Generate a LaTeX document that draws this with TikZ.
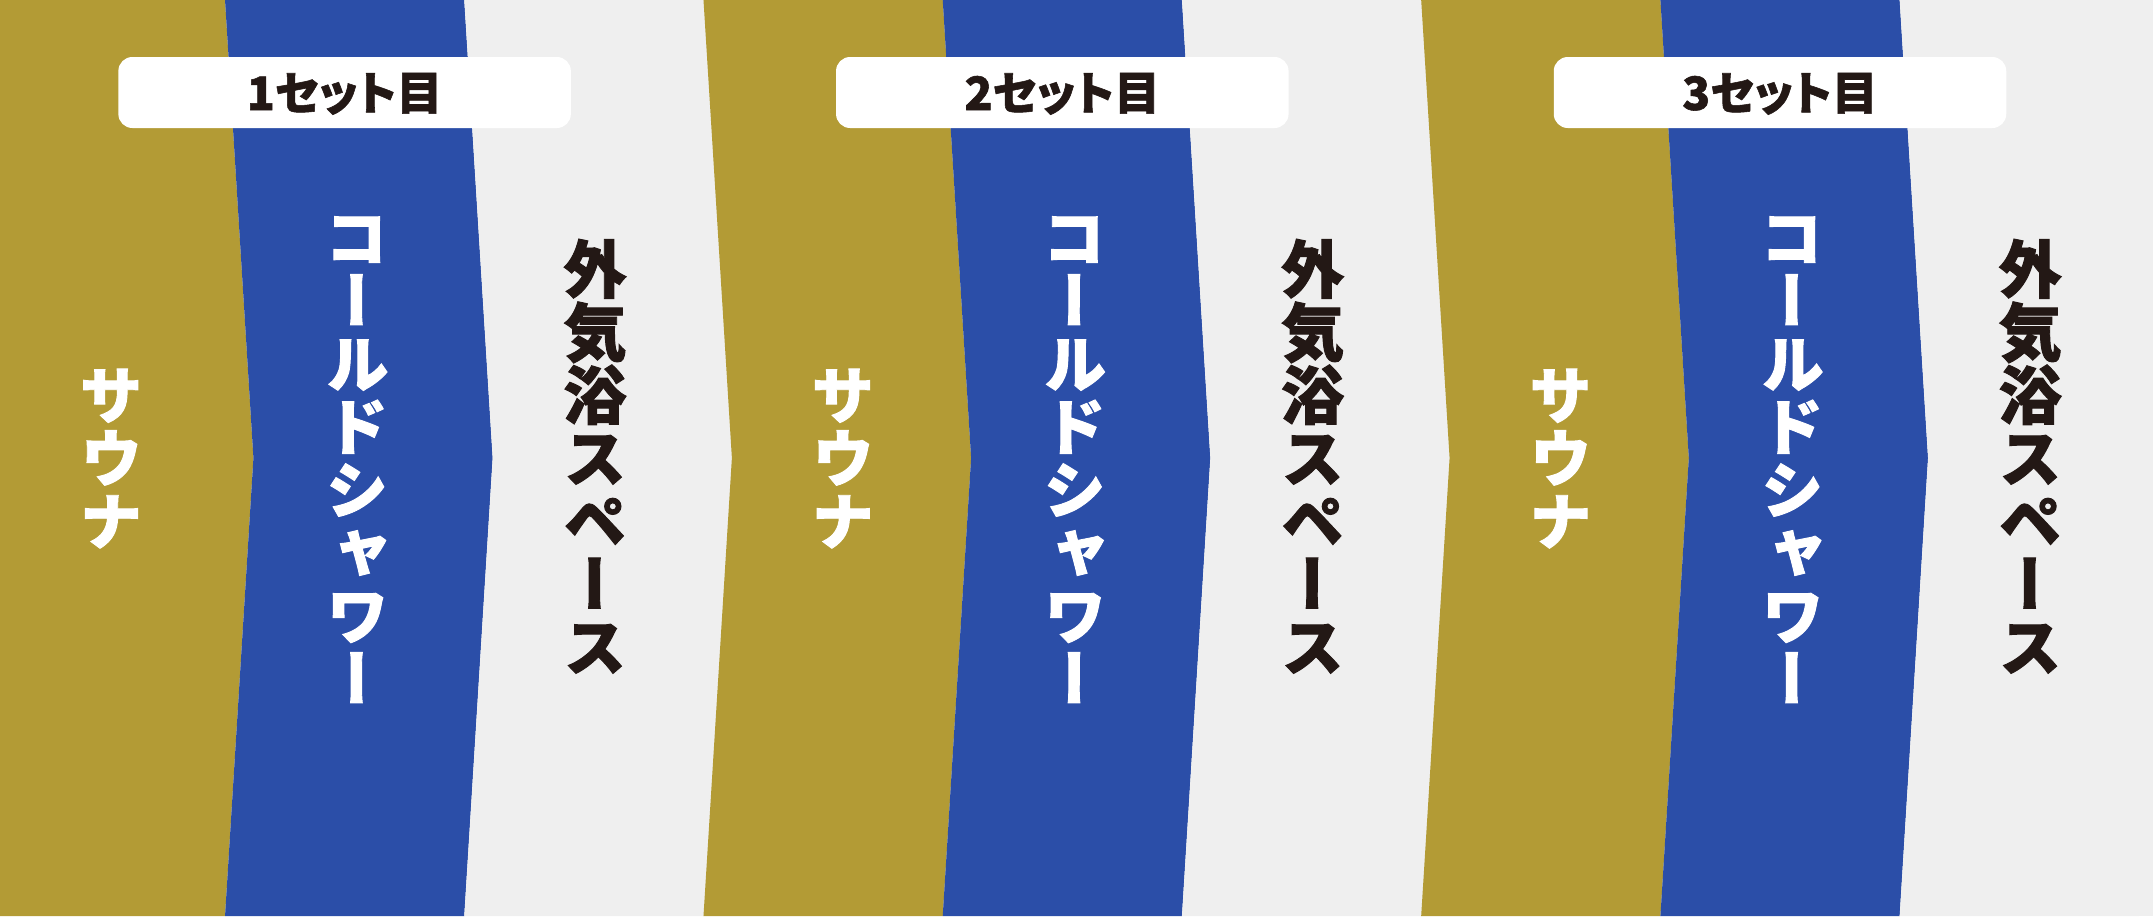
\documentclass[tikz,border=0pt]{standalone}
\usepackage{fontspec}
\newfontfamily\jpv{Noto Sans CJK JP}[RawFeature=+vert, BoldFeatures={FakeBold=1.5}]
\newfontfamily\jph{Noto Sans CJK JP}[RawFeature=+palt, BoldFeatures={FakeBold=1.2}]
\definecolor{gold}{HTML}{B39B35}
\definecolor{cblue}{HTML}{2B4EA8}
\definecolor{bggrey}{HTML}{EFEFEF}
\definecolor{ink}{HTML}{231815}
\tikzset{
  vchar/.style={font=\jpv\bfseries\fontsize{63}{63}\selectfont, inner sep=0pt,
    text height=55.4pt, text depth=7.6pt, anchor=center},
  titlebox/.style={fill=white, rounded corners=14pt, minimum width=452.5pt,
    minimum height=71pt, inner sep=0pt},
  titletext/.style={font=\jph\bfseries\fontsize{46}{46}\selectfont, text=ink,
    inner sep=0pt, text height=40.5pt, text depth=5.5pt}
}
\begin{document}
\begin{tikzpicture}[x=1pt,y=-1pt]
\useasboundingbox (0,0) rectangle (2153,916);
\fill[bggrey] (0,0) rectangle (2153,916);
% bands
\fill[gold] (-60,0) -- (225,0) -- (253.4,458) -- (225,916) -- (-60,916) -- cycle;
\foreach \k in {1,...,8} {
  \pgfmathsetmacro\L{-14.2+239.23*\k}
  \pgfmathsetmacro\R{\L+239.23}
  \pgfmathtruncatemacro\m{mod(\k,3)}
  \ifcase\m \def\col{gold}\or \def\col{cblue}\or \def\col{bggrey}\fi
  \fill[\col] (\L,0) -- (\R,0) -- ({\R+28.4},458) -- (\R,916) -- (\L,916) -- ({\L+28.4},458) -- cycle;
}
% title boxes
\foreach \j in {0,1,2} {
  \pgfmathtruncatemacro\n{\j+1}
  \node[titlebox] (box\j) at ({344.6+717.7*\j}, 92.5) {};
  \node[titletext] (title\j) at (box\j.center) {\n セット目};
}
% vertical texts
\foreach \j/\sx in {0/111, 1/842.8, 2/1560.4} {
  \foreach \c [count=\i] in {サ,ウ,ナ}
    \node[vchar, text=white] (sauna\j\i) at ({\sx}, {458+63*(\i-2)}) {\c};
  \foreach \c [count=\i] in {コ,ー,ル,ド,シ,ャ,ワ,ー}
    \node[vchar, text=white] (cold\j\i) at ({357+717.6*\j}, {458+63*(\i-4.5)}) {\c};
  \foreach \c [count=\i] in {外,気,浴,ス,ペ,ー,ス}
    \node[vchar, text=ink] (outside\j\i) at ({595+717.6*\j}, {458+63*(\i-4)}) {\c};
}
\end{tikzpicture}
\end{document}
